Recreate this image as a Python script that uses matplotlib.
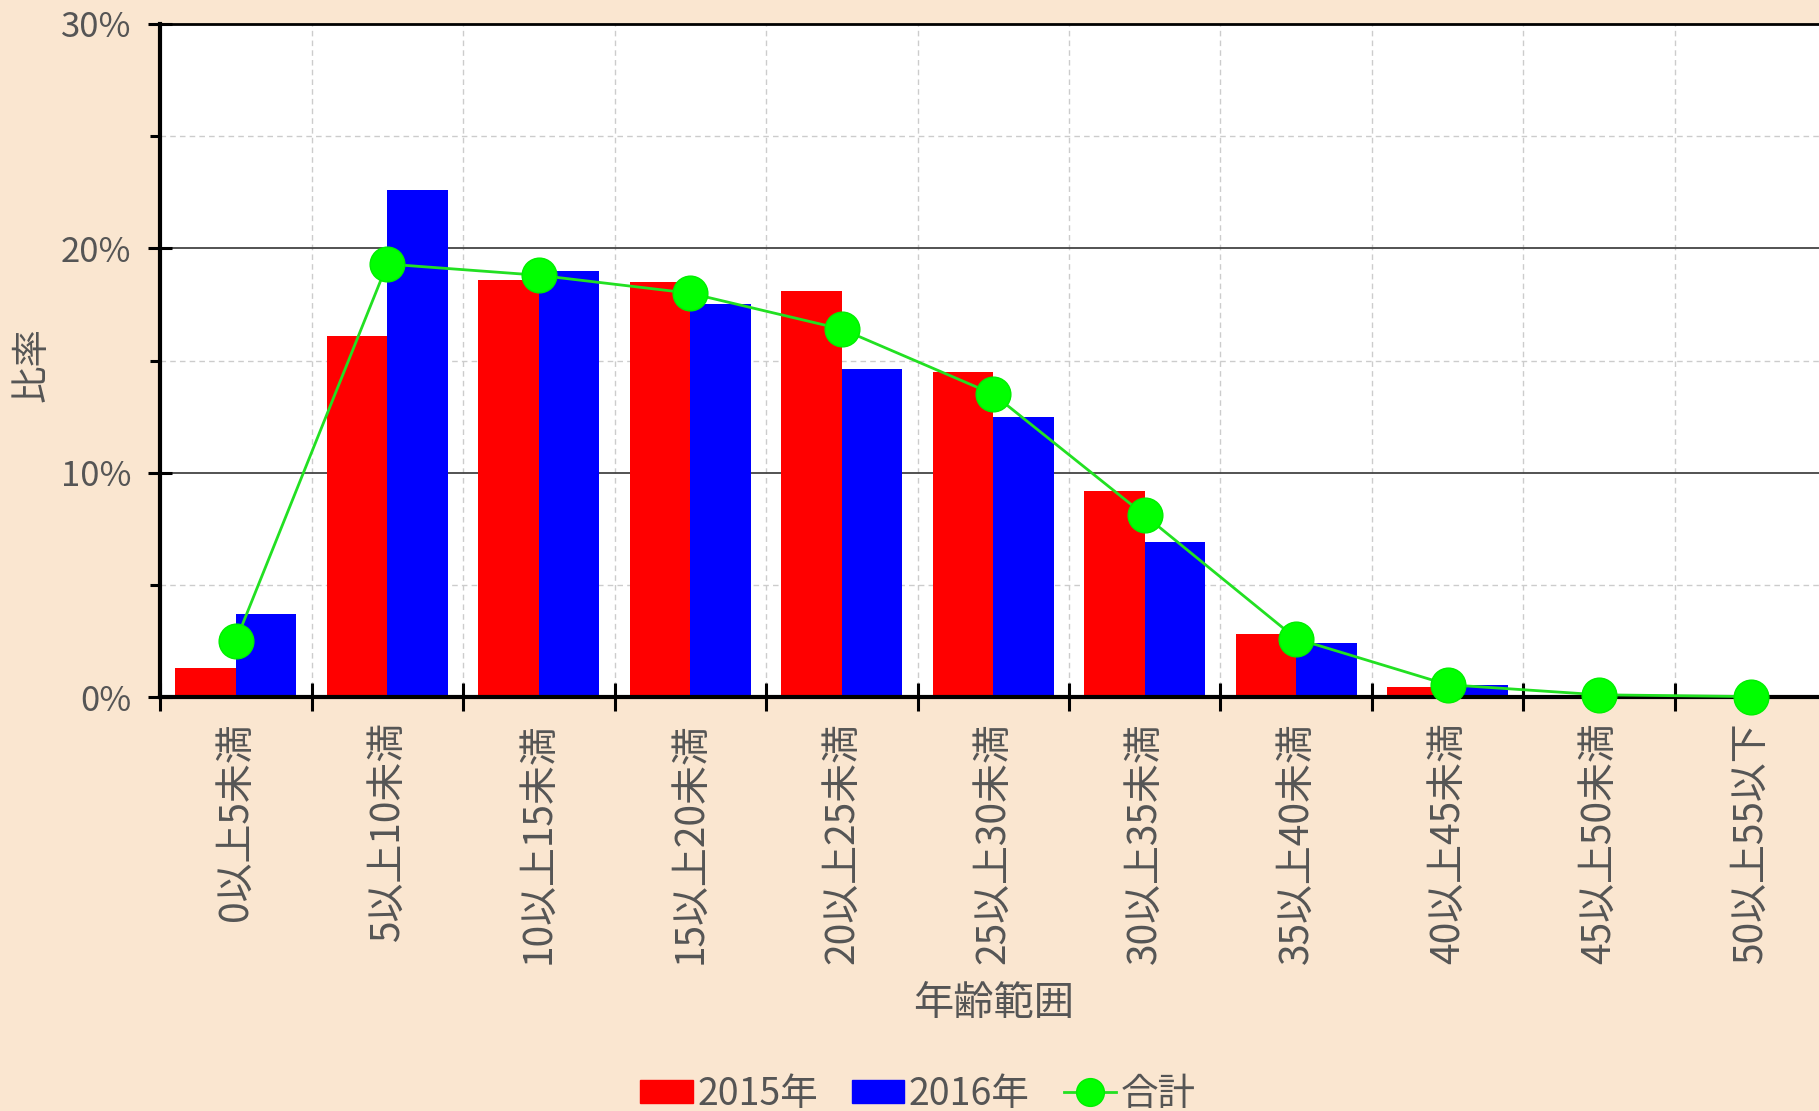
import matplotlib
matplotlib.use('Agg')
import matplotlib.pyplot as plt
import numpy as np
from matplotlib.patches import Patch
from matplotlib.lines import Line2D
from matplotlib.ticker import FuncFormatter, MultipleLocator

plt.rcParams['font.family'] = ['Noto Sans CJK JP', 'DejaVu Sans']

# data (percent)
categories = ['0以上5未満', '5以上10未満', '10以上15未満', '15以上20未満', '20以上25未満',
              '25以上30未満', '30以上35未満', '35以上40未満', '40以上45未満',
              '45以上50未満', '50以上55以下']
y2015 = [1.3, 16.1, 18.6, 18.5, 18.1, 14.5, 9.2, 2.8, 0.45, 0.02, 0.0]
y2016 = [3.7, 22.6, 19.0, 17.5, 14.6, 12.5, 6.9, 2.4, 0.55, 0.05, 0.0]
total = [2.5, 19.3, 18.8, 18.0, 16.4, 13.5, 8.1, 2.6, 0.55, 0.1, 0.02]

bg = '#FAE6D0'
text_color = '#555555'

fig = plt.figure(figsize=(18.19, 11.11), dpi=100, facecolor=bg)
ax = fig.add_axes([0.088, 0.3726, 0.9161, 0.6058])
ax.set_facecolor('white')

x = np.arange(len(categories))
w = 0.4
ax.bar(x - w / 2, y2015, width=w, color='#FF0000', zorder=2)
ax.bar(x + w / 2, y2016, width=w, color='#0000FF', zorder=2)
ax.plot(x, total, color='#22E022', linewidth=2, marker='o', markersize=25,
        markerfacecolor='#00FF00', markeredgecolor='#00EE00', zorder=3, clip_on=False)

ax.set_xlim(-0.5, len(categories) - 0.5)
ax.set_ylim(0, 30)

# y axis
ax.yaxis.set_major_locator(MultipleLocator(10))
ax.yaxis.set_minor_locator(MultipleLocator(5))
ax.yaxis.set_major_formatter(FuncFormatter(lambda v, p: f'{v:.0f}%'))
ax.tick_params(axis='y', which='major', direction='inout', length=17, width=2.2,
               labelsize=25, labelcolor=text_color, pad=12)
ax.tick_params(axis='y', which='minor', direction='out', length=7, width=2.2)
ax.grid(axis='y', which='major', color='#444444', linewidth=1.3, linestyle='-')
ax.grid(axis='y', which='minor', color='#CCCCCC', linewidth=1, linestyle=(0, (4, 3)))

# x axis: labels at centers, ticks at boundaries
ax.set_xticks(x)
ax.set_xticklabels(categories, rotation=90)
ax.set_xticks(np.arange(-0.5, len(categories)), minor=True)
ax.tick_params(axis='x', which='major', length=0, labelsize=28,
               labelcolor=text_color, pad=18)
ax.tick_params(axis='x', which='minor', direction='inout', length=20, width=2.2)
ax.grid(axis='x', which='minor', color='#CCCCCC', linewidth=1, linestyle=(0, (4, 3)))
ax.set_axisbelow(True)

for s in ['left', 'bottom']:
    ax.spines[s].set_linewidth(3)
ax.spines['top'].set_linewidth(2)
ax.spines['right'].set_visible(False)

fig.text(32 / 1819, 1 - 365 / 1111, '比率', fontsize=27, color=text_color,
         ha='center', va='center', rotation=90)
fig.text(994 / 1819, 1 - 1003 / 1111, '年齢範囲', fontsize=29, color=text_color,
         ha='center', va='center')

handles = [Patch(color='#FF0000'), Patch(color='#0000FF'),
           Line2D([], [], color='#22E022', linewidth=2, marker='o', markersize=20,
                  markerfacecolor='#00FF00', markeredgecolor='#00EE00')]
fig.legend(handles, ['2015年', '2016年', '合計'], loc='center',
           bbox_to_anchor=(918 / 1819, 1 - 1094 / 1111), ncol=3, frameon=False,
           fontsize=27, labelcolor=text_color, handlelength=1.4, handleheight=0.55,
           handletextpad=0.12, columnspacing=0.9, borderpad=0.1)

fig.savefig('out.png', dpi=100, facecolor=bg)
